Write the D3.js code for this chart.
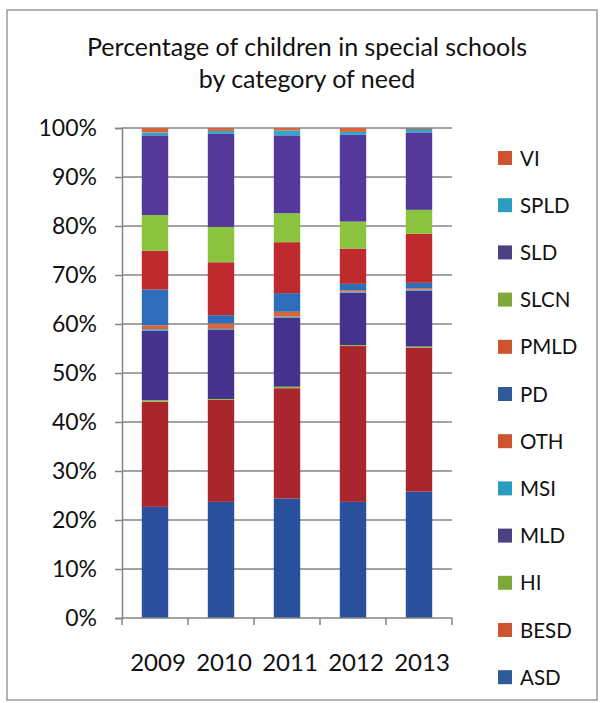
<!DOCTYPE html>
<html>
<head>
<meta charset="utf-8">
<script src="https://cdn.jsdelivr.net/npm/d3@7"></script>
<style>
  html, body { margin: 0; padding: 0; background: #fff; }
  svg { display: block; }
  text { font-family: Lato, "Open Sans", sans-serif; fill: #111; }
</style>
</head>
<body>
<svg id="chart" width="600" height="703"></svg>
<script>
// ---- data (percent of children) ----
const years = ["2009", "2010", "2011", "2012", "2013"];
const seriesNames = ["ASD", "BESD", "HI", "MLD", "MSI", "OTH", "PD", "PMLD", "SLCN", "SLD", "SPLD", "VI"];
const ASD  = [22.7, 23.7, 24.4, 23.7, 25.8];
const BESD = [21.5, 20.8, 22.5, 31.8, 29.4];
const HI   = [0.3, 0.2, 0.3, 0.2, 0.2];
const MLD  = [14.2, 14.1, 14.1, 10.7, 11.4];
const MSI  = [0.3, 0.2, 0.2, 0.2, 0.2];
const OTH  = [0.8, 1.1, 1.0, 0.3, 0.3];
const PD   = [7.3, 1.7, 3.8, 1.3, 1.1];
const PMLD = [7.9, 10.8, 10.4, 7.2, 10.0];
const SLCN = [7.3, 7.2, 5.9, 5.5, 4.9];
const SLD  = [16.3, 19.0, 15.9, 17.7, 15.8];
const SPLD = [0.6, 0.6, 1.0, 0.6, 0.7];
const VI   = [0.9, 0.6, 0.5, 0.8, 0.2];
const yTicks = [0, 0.1, 0.2, 0.3, 0.4, 0.5, 0.6, 0.7, 0.8, 0.9, 1.0];
const titleLines = ["Percentage of children in special schools", "by category of need"];
const barColors = ["#2A4F9C", "#A9262C", "#8CBF3F", "#45328C", "#2FA3C8", "#D9663A",
                   "#2D6DB9", "#BE2A2E", "#8DC43F", "#55399A", "#2FA6CC", "#D9663A"];
const legendColors = ["#2E5A98", "#CC5530", "#7EA83C", "#4E4182", "#2A9DBE", "#CC5530",
                      "#2E5A98", "#CC5530", "#7EA83C", "#4E4182", "#2A9DBE", "#CC5530"];

const seriesValues = [ASD, BESD, HI, MLD, MSI, OTH, PD, PMLD, SLCN, SLD, SPLD, VI];
const table = years.map((y, i) => {
  const row = { year: y };
  seriesNames.forEach((s, k) => { row[s] = seriesValues[k][i]; });
  return row;
});

// ---- layout ----
const svg = d3.select("#chart");
const plot = { left: 122, right: 452, top: 128, bottom: 618 };

svg.append("rect").attr("x", 7).attr("y", 10).attr("width", 590).attr("height", 690)
  .attr("fill", "#fff").attr("stroke", "#9a9a9a").attr("stroke-width", 1.5);

const x = d3.scaleBand().domain(years).range([plot.left, plot.right])
  .paddingInner(0.6).paddingOuter(0.3);
const y = d3.scaleLinear().domain([0, 1]).range([plot.bottom, plot.top]);
const color = d3.scaleOrdinal().domain(seriesNames).range(barColors);
const legendColor = d3.scaleOrdinal().domain(seriesNames).range(legendColors);

// title
svg.append("g").selectAll("text").data(titleLines).join("text")
  .attr("x", 307).attr("y", (d, i) => 56 + i * 32)
  .attr("text-anchor", "middle").style("font-size", "25px")
  .text(d => d);

// gridlines
svg.append("g").selectAll("line").data(yTicks.filter(t => t > 0)).join("line")
  .attr("x1", plot.left).attr("x2", plot.right)
  .attr("y1", d => y(d)).attr("y2", d => y(d))
  .attr("stroke", "#858585").attr("stroke-width", 1.5);

// y axis
const yAxis = svg.append("g").attr("transform", `translate(${plot.left},0)`)
  .call(d3.axisLeft(y).tickValues(yTicks).tickFormat(d3.format(".0%")).tickSize(7).tickPadding(18));
yAxis.select(".domain").attr("stroke", "#858585").attr("stroke-width", 1.5);
yAxis.selectAll(".tick line").attr("stroke", "#858585").attr("stroke-width", 1.5);
yAxis.selectAll("text").style("font-size", "23px").attr("fill", "#111")
  .style("font-family", "Lato, 'Open Sans', sans-serif");

// stacked bars
const stack = d3.stack().keys(seriesNames).offset(d3.stackOffsetExpand);
const layers = stack(table);
svg.append("g").selectAll("g").data(layers).join("g")
  .attr("fill", d => color(d.key))
  .selectAll("rect").data(d => d).join("rect")
  .attr("x", d => x(d.data.year))
  .attr("width", x.bandwidth())
  .attr("y", d => y(d[1]))
  .attr("height", d => y(d[0]) - y(d[1]));

// x axis
const xAxisG = svg.append("g").attr("transform", `translate(0,${plot.bottom})`);
xAxisG.append("line").attr("x1", plot.left).attr("x2", plot.right)
  .attr("stroke", "#858585").attr("stroke-width", 1.5);
const boundaries = d3.range(years.length + 1).map(i => plot.left + i * x.step());
xAxisG.selectAll("line.tk").data(boundaries).join("line").attr("class", "tk")
  .attr("x1", d => d).attr("x2", d => d).attr("y1", 0).attr("y2", 7)
  .attr("stroke", "#858585").attr("stroke-width", 1.5);
xAxisG.selectAll("text").data(years).join("text")
  .attr("x", d => x(d) + x.bandwidth() / 2 + 3)
  .attr("y", 53)
  .attr("text-anchor", "middle").style("font-size", "24px")
  .text(d => d);

// legend (top entry VI, bottom ASD)
const legendItems = seriesNames.slice().reverse();
const lg = svg.append("g").selectAll("g").data(legendItems).join("g")
  .attr("transform", (d, i) => `translate(498,${158 + i * 47.2})`);
lg.append("rect").attr("x", 0).attr("y", -7).attr("width", 14).attr("height", 14)
  .attr("fill", d => legendColor(d));
lg.append("text").attr("x", 22).attr("y", 7.5).style("font-size", "20.5px").text(d => d);
</script>
</body>
</html>
